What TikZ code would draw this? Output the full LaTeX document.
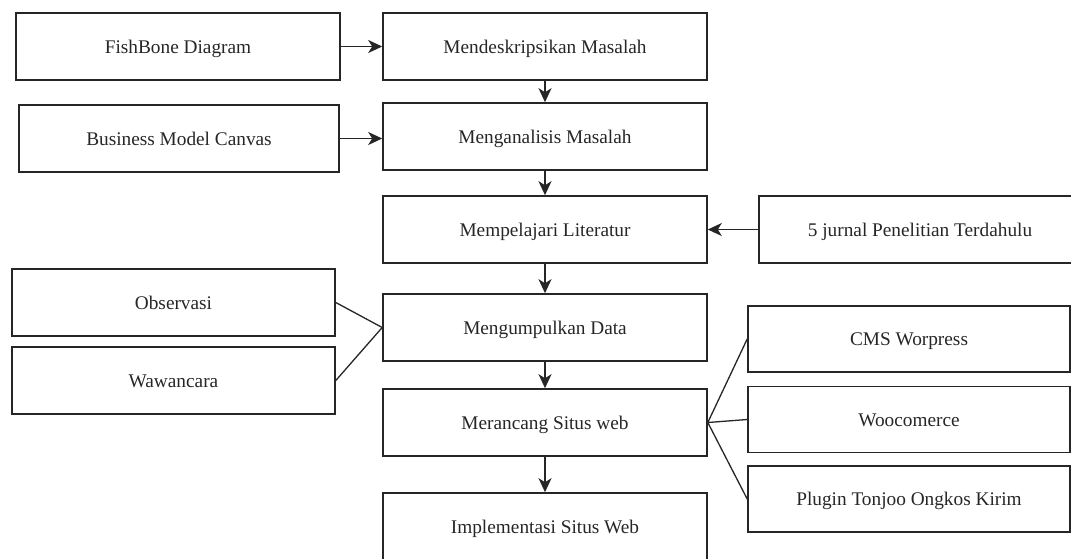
\documentclass[tikz,border=0pt]{standalone}
\usepackage{fontspec}
\setmainfont{Liberation Serif}
\usetikzlibrary{arrows.meta}
\begin{document}
\begin{tikzpicture}[x=1pt,y=-1pt,
  box/.style={draw=black!85, line width=1.6pt, minimum height=67pt, inner sep=0pt,
    text height=13pt, text depth=0pt,
    font=\fontsize{19.3}{22}\selectfont, text=black!85},
  arr/.style={line width=1.8pt, draw=black!85, -{Stealth[length=14pt,width=13pt,inset=4pt]}},
  ln/.style={line width=1.3pt, draw=black!85}]
\useasboundingbox (0,0) rectangle (1071,558);
\clip (0,0) rectangle (1071,558);
\node[box, minimum width=324pt] (fish) at (178,46.5) {FishBone Diagram};
\node[box, minimum width=320pt] (bmc) at (179,138.5) {Business Model Canvas};
\node[box, minimum width=324pt] (desk) at (545,46.5) {Mendeskripsikan Masalah};
\node[box, minimum width=324pt] (anal) at (545,136.5) {Menganalisis Masalah};
\node[box, minimum width=324pt] (lit) at (545,229.5) {Mempelajari Literatur};
\node[box, minimum width=322pt] (jur) at (920,229.5) {5 jurnal Penelitian Terdahulu};
\node[box, minimum width=323pt] (obs) at (173.5,302.5) {Observasi};
\node[box, minimum width=323pt] (waw) at (173.5,380.5) {Wawancara};
\node[box, minimum width=324pt] (data) at (545,327.5) {Mengumpulkan Data};
\node[box, minimum width=324pt] (ran) at (545,422.5) {Merancang Situs web};
\node[box, minimum width=324pt] (impl) at (545,526.5) {Implementasi Situs Web};
\node[box, minimum width=322pt, minimum height=66pt] (cms) at (909,339) {CMS Worpress};
\node[box, minimum width=322pt, minimum height=66pt] (woo) at (909,419.5) {Woocomerce};
\node[box, minimum width=322pt, minimum height=66pt] (plug) at (909,499) {Plugin Tonjoo Ongkos Kirim};
\draw[arr] (fish) -- (desk);
\draw[arr] (bmc.east) -- (bmc.east -| anal.west);
\draw[arr] (desk) -- (anal);
\draw[arr] (anal) -- (lit);
\draw[arr] (jur) -- (lit);
\draw[arr] (lit) -- (data);
\draw[arr] (data) -- (ran);
\draw[arr] (ran) -- (impl);
\draw[ln] (obs.east) -- (data.west);
\draw[ln] (waw.east) -- (data.west);
\draw[ln] (ran.east) -- (cms.west);
\draw[ln] (ran.east) -- (woo.west);
\draw[ln] (ran.east) -- (plug.west);
\end{tikzpicture}
\end{document}
